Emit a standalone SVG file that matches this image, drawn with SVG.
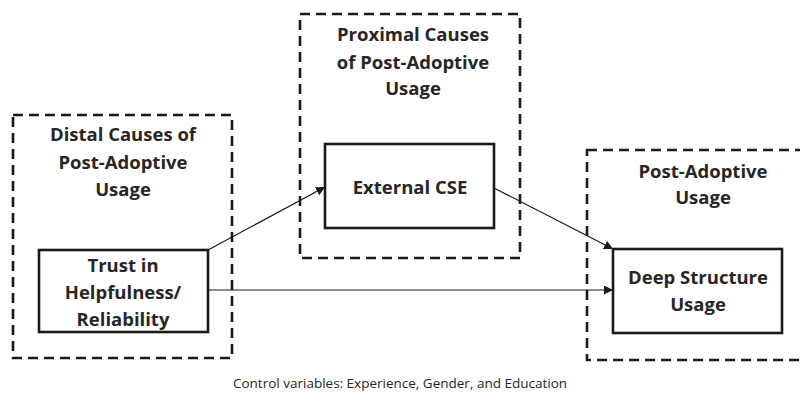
<svg xmlns="http://www.w3.org/2000/svg" width="800" height="405" viewBox="0 0 800 405">
<style>
.grp{fill:none;stroke:#1a1a1a;stroke-width:2.6;stroke-dasharray:10,6}
.box{fill:#fff;stroke:#1a1a1a;stroke-width:2.6}
.t{font-family:"Open Sans","Liberation Sans",sans-serif;font-weight:bold;font-size:18.5px;fill:#262626;text-anchor:middle}
.c{font-family:"Open Sans","Liberation Sans",sans-serif;font-size:13.5px;fill:#262626;text-anchor:middle}
.ln{stroke:#1a1a1a;stroke-width:1.2;fill:none}
</style>
<defs>
<marker id="ah" viewBox="0 0 10 10" refX="10" refY="5" markerWidth="9" markerHeight="9" markerUnits="userSpaceOnUse" orient="auto">
<path d="M0,0 L10,5 L0,10 z" fill="#1a1a1a"/>
</marker>
</defs>
<g id="distal">
<rect class="grp" x="13" y="115" width="219" height="243"/>
<text class="t" x="123" y="141">Distal Causes of</text>
<text class="t" x="123" y="169">Post-Adoptive</text>
<text class="t" x="123" y="196">Usage</text>
</g>
<g id="proximal">
<rect class="grp" x="300" y="14" width="220" height="244"/>
<text class="t" x="413" y="41">Proximal Causes</text>
<text class="t" x="413" y="69">of Post-Adoptive</text>
<text class="t" x="413" y="95">Usage</text>
</g>
<g id="postadoptive">
<rect class="grp" x="587" y="150" width="225" height="210"/>
<text class="t" x="703" y="178">Post-Adoptive</text>
<text class="t" x="703" y="204">Usage</text>
</g>
<g id="connectors">
<line class="ln" x1="208" y1="250" x2="325" y2="187" marker-end="url(#ah)"/>
<line class="ln" x1="494" y1="188" x2="613" y2="249" marker-end="url(#ah)"/>
<line class="ln" x1="208" y1="290" x2="613" y2="290" marker-end="url(#ah)"/>
</g>
<g id="trust">
<rect class="box" x="39" y="250" width="169" height="82"/>
<text class="t" x="123" y="272">Trust in</text>
<text class="t" x="123" y="299">Helpfulness/</text>
<text class="t" x="123" y="326">Reliability</text>
</g>
<g id="cse">
<rect class="box" x="325" y="144" width="169" height="84"/>
<text class="t" x="410" y="194">External CSE</text>
</g>
<g id="deep">
<rect class="box" x="613" y="249" width="169" height="84"/>
<text class="t" x="698" y="284">Deep Structure</text>
<text class="t" x="698" y="311">Usage</text>
</g>
<text class="c" x="400" y="388">Control variables: Experience, Gender, and Education</text>
</svg>
